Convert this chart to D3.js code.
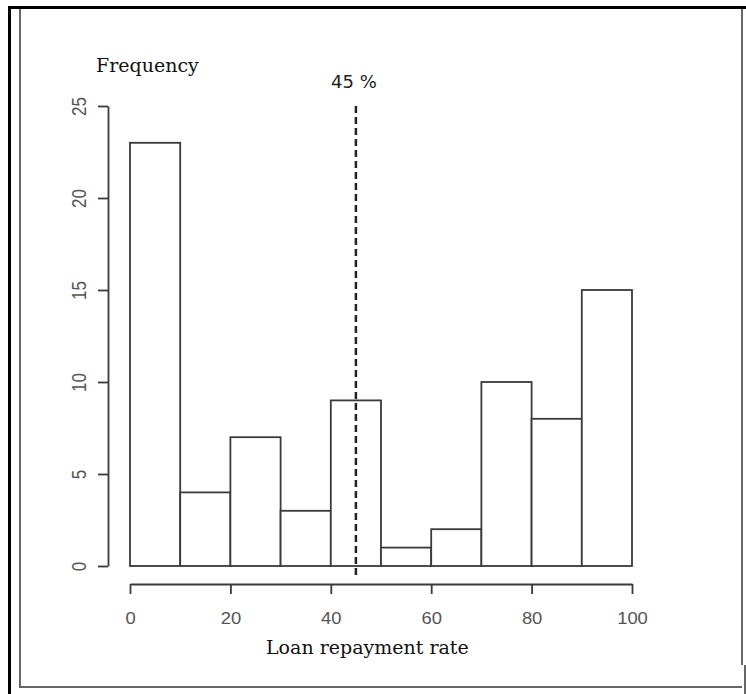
<!DOCTYPE html>
<html>
<head>
<meta charset="utf-8">
<script src="https://cdn.jsdelivr.net/npm/d3@7"></script>
<style>
  html, body { margin: 0; padding: 0; background: #fff; }
  svg { display: block; }
</style>
</head>
<body>
<svg id="chart" width="746" height="694"></svg>
<script>
'use strict';

// ---- Data ----
const binEdges = [0, 10, 20, 30, 40, 50, 60, 70, 80, 90, 100];
const counts   = [23, 4, 7, 3, 9, 1, 2, 10, 8, 15];
const xTicks   = [0, 20, 40, 60, 80, 100];
const yTicks   = [0, 5, 10, 15, 20, 25];
const markValue = 45;
const markLabel = '45 %';
const xTitle = 'Loan repayment rate';
const yTitle = 'Frequency';

const WIDTH = 746, HEIGHT = 694;
const INK = '#3a3a3a';
const LABEL_GREY = '#555';

const svg = d3.select('#chart');

// ---- Frame (black outer edge + grey inner box) ----
const frame = svg.append('g').attr('class', 'frame');
frame.append('line').attr('x1', 8).attr('x2', WIDTH).attr('y1', 7.5).attr('y2', 7.5)
  .attr('stroke', '#000').attr('stroke-width', 3);
frame.append('line').attr('x1', 9.5).attr('x2', 9.5).attr('y1', 6).attr('y2', HEIGHT)
  .attr('stroke', '#000').attr('stroke-width', 3);
frame.append('path')
  .attr('d', 'M20,9 V687 H742 M742,9 V665 M745,665 V694')
  .attr('fill', 'none').attr('stroke', '#666').attr('stroke-width', 2);

// ---- Scales ----
const x = d3.scaleLinear().domain([0, 100]).range([130, 632]);
const y = d3.scaleLinear().domain([0, 25]).range([566, 106]);

const bins = counts.map((c, i) => ({ x0: binEdges[i], x1: binEdges[i + 1], n: c }));

// ---- Bars ----
svg.append('g')
  .selectAll('rect')
  .data(bins)
  .join('rect')
  .attr('x', d => x(d.x0))
  .attr('y', d => y(d.n))
  .attr('width', d => x(d.x1) - x(d.x0))
  .attr('height', d => y(0) - y(d.n))
  .attr('fill', '#fff')
  .attr('stroke', INK)
  .attr('stroke-width', 1.8);

// ---- Axes ----
const xAxis = svg.append('g')
  .attr('transform', 'translate(0,584)')
  .call(d3.axisBottom(x).tickValues(xTicks).tickSize(10).tickSizeOuter(0));

xAxis.select('.domain').attr('stroke', INK).attr('stroke-width', 1.8);
xAxis.selectAll('.tick line').attr('stroke', INK).attr('stroke-width', 1.8);
xAxis.selectAll('.tick text')
  .attr('y', 40).attr('dy', 0)
  .attr('transform', 'scale(1.15,1)')
  .attr('fill', LABEL_GREY)
  .attr('font-family', '"Liberation Sans", Arial, sans-serif')
  .attr('font-size', 16);

const yAxis = svg.append('g')
  .attr('transform', 'translate(108,0)')
  .call(d3.axisLeft(y).tickValues(yTicks).tickSize(10).tickSizeOuter(0));

yAxis.select('.domain').attr('stroke', INK).attr('stroke-width', 1.8);
yAxis.selectAll('.tick line').attr('stroke', INK).attr('stroke-width', 1.8);
yAxis.selectAll('.tick text')
  .attr('x', 0).attr('y', -19).attr('dy', 0)
  .attr('transform', 'scale(1.15,1) rotate(-90)')
  .attr('text-anchor', 'middle')
  .attr('fill', LABEL_GREY)
  .attr('font-family', '"Liberation Sans", Arial, sans-serif')
  .attr('font-size', 17);

svg.selectAll('.tick text').style('font-kerning', 'none');

// ---- Marker line at 45 % ----
svg.append('line')
  .attr('x1', x(markValue)).attr('x2', x(markValue))
  .attr('y1', y(25)).attr('y2', 579)
  .attr('stroke', '#222')
  .attr('stroke-width', 2.5)
  .attr('stroke-dasharray', '7,4');

svg.append('text')
  .attr('x', x(markValue) - 2)
  .attr('y', 88)
  .attr('text-anchor', 'middle')
  .attr('fill', '#222')
  .attr('font-family', '"DejaVu Sans", sans-serif')
  .attr('font-size', 18)
  .text(markLabel);

// ---- Titles ----
svg.append('text')
  .attr('x', 96)
  .attr('y', 72)
  .attr('fill', '#111')
  .attr('font-family', '"DejaVu Serif", serif')
  .attr('font-size', 19)
  .text(yTitle);

svg.append('text')
  .attr('x', 266)
  .attr('y', 654)
  .attr('fill', '#111')
  .attr('font-family', '"DejaVu Serif", serif')
  .attr('font-size', 19)
  .text(xTitle);
</script>
</body>
</html>
